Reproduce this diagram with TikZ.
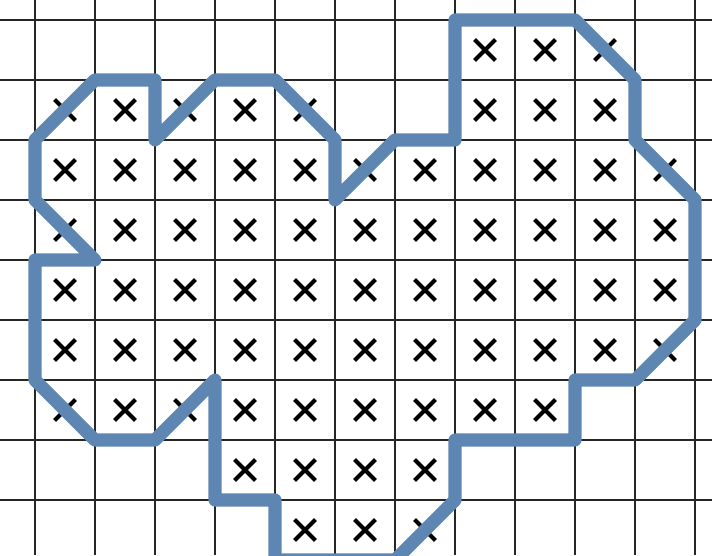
\documentclass[tikz,border=0pt]{standalone}
\usetikzlibrary{shapes.misc}
\definecolor{outline}{RGB}{94,134,178}
\begin{document}
\begin{tikzpicture}[x=1cm,y=1cm]
  \tikzstyle{gridline}=[line width=0.9pt,black!85]
  \tikzstyle{xmark}=[cross out,draw,minimum size=0.28cm,inner sep=0pt,line width=1.9pt,black]
  \tikzstyle{border}=[line width=6.2pt,outline,line join=round]
  \useasboundingbox (-0.583,-8.917) rectangle (11.283,0.333);
  \clip (-0.583,-8.917) rectangle (11.283,0.333);
  % grid
  \draw[gridline] (-0.583,-8.917) grid (11.283,0.333);
  \draw[gridline,line width=1.4pt] (9,-8.917) -- (9,0.333);
  % crosses, row by row
  \foreach \c in {7,8,9} \node[xmark] (x-0-\c) at (\c+0.5,-0.5) {};
  \foreach \c in {0,...,4,7,8,9} \node[xmark] (x-1-\c) at (\c+0.5,-1.5) {};
  \foreach \r in {2,...,5}
    \foreach \c in {0,...,10} \node[xmark] (x-\r-\c) at (\c+0.5,-\r-0.5) {};
  \foreach \c in {0,...,8} \node[xmark] (x-6-\c) at (\c+0.5,-6.5) {};
  \foreach \c in {3,...,6} \node[xmark] (x-7-\c) at (\c+0.5,-7.5) {};
  \foreach \c in {4,5,6} \node[xmark] (x-8-\c) at (\c+0.5,-8.5) {};
  % outline
  \draw[border] (7,0) -- (9,0) -- (10,-1) -- (10,-2) -- (11,-3) -- (11,-5)
    -- (10,-6) -- (9,-6) -- (9,-7) -- (7,-7) -- (7,-8) -- (6,-9) -- (4,-9)
    -- (4,-8) -- (3,-8) -- (3,-6) -- (2,-7) -- (1,-7) -- (0,-6) -- (0,-4)
    -- (1,-4) -- (0,-3) -- (0,-2) -- (1,-1) -- (2,-1) -- (2,-2) -- (3,-1)
    -- (4,-1) -- (5,-2) -- (5,-3) -- (6,-2) -- (7,-2) -- cycle;
\end{tikzpicture}
\end{document}
